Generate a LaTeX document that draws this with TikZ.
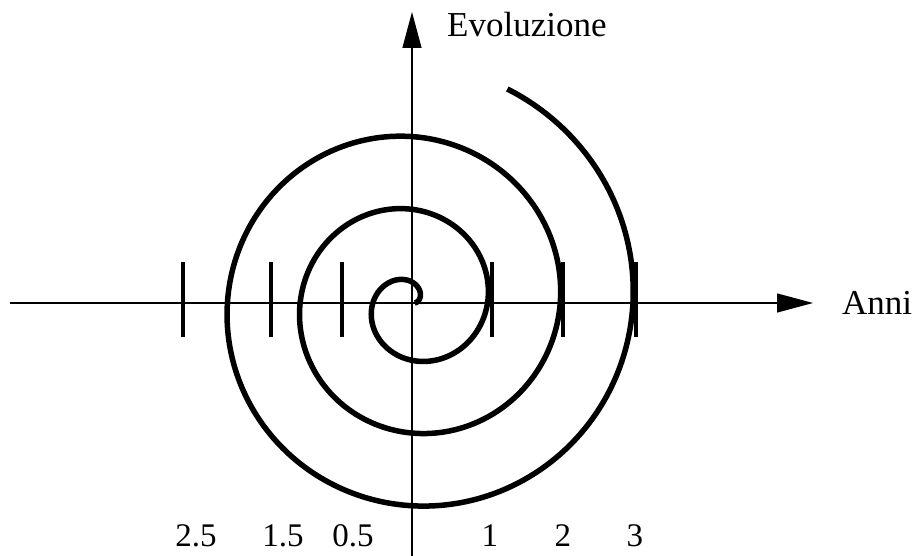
\documentclass[tikz,border=0pt]{standalone}
\usepackage{fontspec}
\setmainfont{Liberation Serif}
\usetikzlibrary{arrows.meta}
\tikzset{
  axisline/.style={line width=1.3pt, -{Triangle[length=36pt,width=19pt]}},
  spiralline/.style={line width=5.5pt},
  yeartick/.style={line width=3.6pt},
  axislabel/.style={font=\fontsize{35}{40}\selectfont, inner sep=0pt},
  yearlabel/.style={font=\fontsize{33}{38}\selectfont, inner sep=0pt, anchor=base}
}

\begin{document}
\begin{tikzpicture}[x=1pt,y=1pt]
  \useasboundingbox (-412,-253) rectangle (502,303);
  % axes
  \coordinate (xstart) at (-402,0);
  \coordinate (xend) at (401,0);
  \coordinate (ystart) at (0,-253);
  \coordinate (yend) at (0,291);
  \draw[axisline] (xstart) -- (xend);
  \draw[axisline] (ystart) -- (yend);

  % spiral
  \draw[spiralline] plot[domain=0:1146, samples=500, smooth]
    ({(0.202*\x+2.8)*cos(\x)}, {(0.202*\x+2.8)*sin(\x)});

  % ticks
  \foreach \tx in {-229,-141,-70,80,151,224}
    \draw[yeartick] (\tx,-34) -- (\tx,41);

  \node[axislabel, anchor=base west] (evo) at (35,266) {Evoluzione};
  \node[axislabel, anchor=base west] (anni) at (430,-12) {Anni};
  \foreach \lx/\lab [count=\i] in {-216/2.5,-129/1.5,-59/0.5,78/1,151/2,223/3}
    \node[yearlabel] (year\i) at (\lx,-244) {\lab};
\end{tikzpicture}
\end{document}
